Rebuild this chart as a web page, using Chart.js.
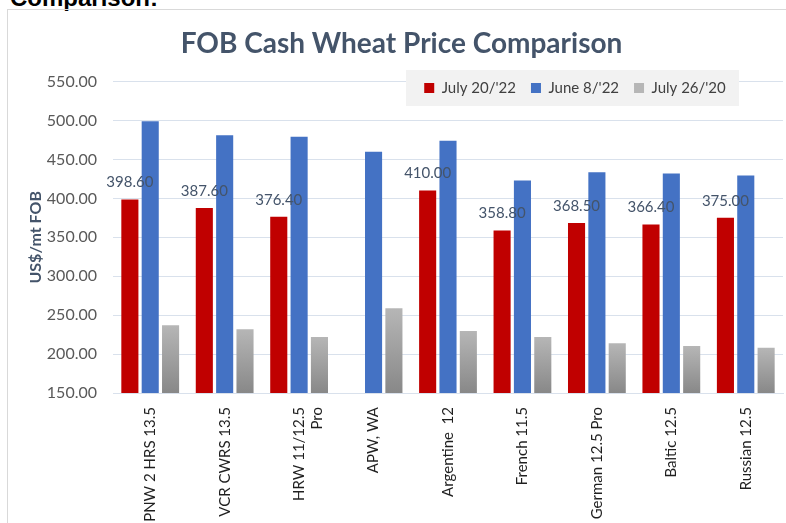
<!DOCTYPE html>
<html><head><meta charset="utf-8">
<script src="https://cdn.jsdelivr.net/npm/chart.js@4"></script>
<style>
html,body{margin:0;padding:0;background:#fff;overflow:hidden;width:786px;height:523px;}
#heading{position:absolute;left:10px;top:-14px;font:bold 24px "Liberation Sans",Arial,sans-serif;line-height:24px;color:#000;white-space:nowrap;}
#frame{position:absolute;left:7px;top:9px;width:900px;height:700px;border:1px solid #D9D9D9;box-sizing:border-box;}
#c{position:absolute;left:0;top:0;}
</style></head><body>
<div id="heading">Comparison:</div>
<div id="frame"></div>
<canvas id="c" width="786" height="523"></canvas>
<script>
// ---- data ----
const categories = ['PNW 2 HRS 13.5', 'VCR CWRS 13.5', ['HRW 11/12.5', 'Pro'], 'APW, WA', 'Argentine  12', 'French 11.5', 'German 12.5 Pro', 'Baltic 12.5', 'Russian 12.5'];
const seriesNames = ["July 20/'22", "June 8/'22", "July 26/'20"];
const july2022 = [398.6, 387.6, 376.4, null, 410.0, 358.8, 368.5, 366.4, 375.0];
const june2022 = [499, 481, 479, 460, 474, 423, 433.5, 432, 429.5];
const july2020 = [237, 232, 222, 259, 229.5, 222, 214, 210.5, 208];
const yMin = 150, yMax = 550, yStep = 50;
const chartTitle = 'FOB Cash Wheat Price Comparison';
const yTitle = 'US$/mt FOB';

Chart.defaults.font.family = 'Lato, "Open Sans", sans-serif';

function grayGradient(c) {
  const chart = c.chart;
  const area = chart.chartArea;
  if (!area || c.type !== 'data' || !chart.scales.y) return '#A6A6A6';
  const top = chart.scales.y.getPixelForValue(c.raw);
  const g = chart.ctx.createLinearGradient(0, top, 0, area.bottom);
  g.addColorStop(0, '#B6B6B6');
  g.addColorStop(1, '#888888');
  return g;
}

const legendPanel = {
  id: 'legendPanel',
  afterLayout(chart) {
    const lg = chart.legend;
    if (!lg) return;
    const pad = lg.options.labels.padding;
    lg.left = 375; lg.right = 775; lg.width = 400;
    lg.top = 88 - pad - 7.5; lg.bottom = lg.top + 36; lg.height = 36;
    if (!lg._panelPatched) {
      const orig = lg.draw;
      lg.draw = function(...args) {
        const ctx = this.ctx;
        ctx.save();
        ctx.fillStyle = '#F2F2F2';
        ctx.fillRect(406, 70, 333, 36);
        ctx.restore();
        return orig.apply(this, args);
      };
      lg._panelPatched = true;
    }
  }
};

const valueLabels = {
  id: 'valueLabels',
  afterDatasetsDraw(chart) {
    const ctx = chart.ctx;
    const meta = chart.getDatasetMeta(0);
    ctx.save();
    ctx.font = '15px Lato, "Open Sans", sans-serif';
    ctx.fillStyle = '#44546A';
    ctx.textAlign = 'center';
    ctx.textBaseline = 'middle';
    meta.data.forEach((bar, i) => {
      const v = july2022[i];
      if (v === null || v === undefined) return;
      ctx.fillText(v.toFixed(2), bar.x, bar.y - 17);
    });
    ctx.restore();
  }
};

new Chart(document.getElementById('c'), {
  type: 'bar',
  data: {
    labels: categories,
    datasets: [
      { label: seriesNames[0], data: july2022, backgroundColor: '#C00000' },
      { label: seriesNames[1], data: june2022, backgroundColor: '#4472C4' },
      { label: seriesNames[2], data: july2020, backgroundColor: grayGradient }
    ]
  },
  options: {
    responsive: false,
    animation: false,
    categoryPercentage: 0.82,
    barPercentage: 0.84,
    layout: { padding: { top: 10, left: 20, right: 3, bottom: 0 } },
    plugins: {
      title: {
        display: true,
        text: chartTitle,
        color: '#44546A',
        font: { size: 28, weight: 'bold', lineHeight: 1.2 },
        padding: { top: 17, bottom: 20 }
      },
      legend: {
        display: true,
        position: 'top',
        maxHeight: 1,
        labels: {
          boxWidth: 10, boxHeight: 10, padding: 15,
          color: '#404040',
          font: { size: 15 }
        }
      },
      tooltip: { enabled: false }
    },
    scales: {
      x: {
        grid: { display: false, drawTicks: false },
        border: { display: true, color: '#D9E1EC', width: 1 },
        ticks: {
          autoSkip: false, minRotation: 90, maxRotation: 90,
          padding: 14, color: '#1F1F1F', font: { size: 15 }
        },
        afterFit(scale) { scale.height = 130; }
      },
      y: {
        min: yMin, max: yMax,
        grid: { color: '#D9E1EC', drawTicks: false, z: -1 },
        border: { display: false },
        ticks: {
          stepSize: yStep, padding: 16, color: '#595959', font: { size: 16 },
          callback: (v) => Number(v).toFixed(2)
        },
        title: {
          display: true, text: yTitle, color: '#44546A',
          font: { size: 16, weight: 'bold', lineHeight: 1.2 },
          padding: { top: 6, bottom: 0 }
        },
        afterFit(scale) { scale.width = 93; }
      }
    }
  },
  plugins: [legendPanel, valueLabels]
});
</script>
</body></html>
